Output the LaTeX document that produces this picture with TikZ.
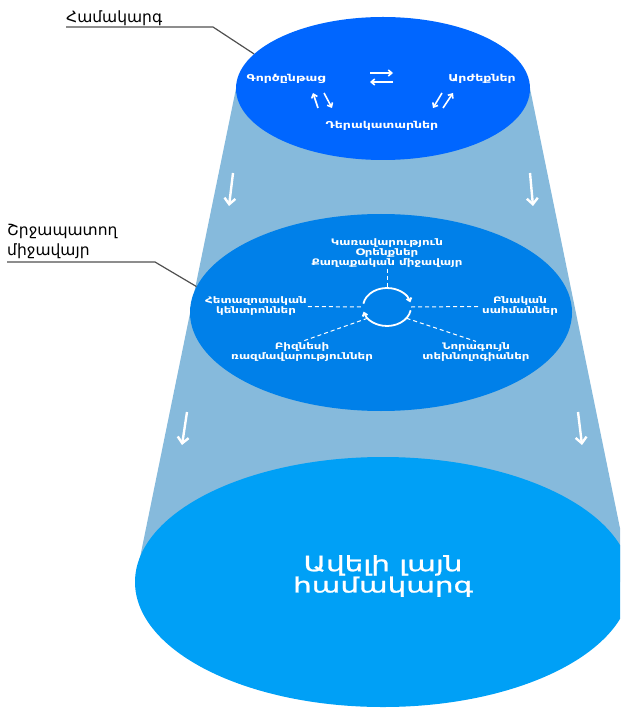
\documentclass[tikz,border=0pt]{standalone}
\usepackage{fontspec}
\setmainfont{DejaVu Sans}
\newfontfamily\widefont[FakeStretch=1.32]{DejaVu Sans}
\newfontfamily\bigfont[FakeStretch=1.4, FakeBold=1.2]{DejaVu Sans}
\usetikzlibrary{shapes.geometric,arrows.meta}
\definecolor{conecol}{RGB}{134,186,220}
\definecolor{syscol}{RGB}{0,102,255}
\definecolor{envcol}{RGB}{0,128,233}
\definecolor{widecol}{RGB}{0,160,246}
\definecolor{leadcol}{RGB}{80,80,80}

\begin{document}
\begin{tikzpicture}[x=1pt, y=-1pt,
	disc/.style={ellipse, inner sep=0pt},
	inlbl/.style={white, font=\widefont\bfseries\fontsize{9}{10}\selectfont, align=center, inner sep=1pt},
	outlbl/.style={black, font=\fontsize{15.5}{20}\selectfont, align=left, inner sep=0pt},
	lead/.style={leadcol, line width=1.2pt},
	flow/.style={white, line width=2.4pt, -{Straight Barb[length=6pt, width=11pt]}},
	swap/.style={white, line width=1.6pt, -{Straight Barb[length=3.5pt, width=6pt]}},
	ring/.style={white, line width=1.8pt, -{Straight Barb[length=3pt, width=5pt]}},
	link/.style={white, line width=1pt, dash pattern=on 4pt off 3pt}]
	\useasboundingbox (0,0) rectangle (620,708);
	\clip (0,0) rectangle (620,708);
	
	\fill[conecol] (236,88.5) -- (530,88.5) -- (631,582) -- (135,582) -- cycle; % Kegel
	
	% Scheiben
	\node[disc, fill=widecol, minimum width=496pt, minimum height=250pt] (wide) at (383,582) {};
	\node[disc, fill=envcol, minimum width=382pt, minimum height=197pt] (env) at (381,312.5) {};
	\node[disc, fill=syscol, minimum width=294pt, minimum height=143pt] (sys) at (383,88.5) {};
	
	% Pfeile nach unten
	\foreach \n/\xa/\ya/\xb/\yb in {1/233/173/229/206, 2/530/173/533/206, 3/187/412/182/445, 4/578/412/582/445}{
		\coordinate (d\n a) at (\xa,\ya);
		\coordinate (d\n b) at (\xb,\yb);
		\draw[flow] (d\n a) -- (d\n b);
	}
	
	% System
	\node[inlbl, font=\widefont\bfseries\fontsize{9.5}{11}\selectfont] (proc) at (286,79) {Գործընթաց};
	\node[inlbl, font=\widefont\bfseries\fontsize{9.5}{11}\selectfont] (val) at (482,79) {Արժեքներ};
	\node[inlbl, font=\widefont\bfseries\fontsize{9.5}{11}\selectfont] (act) at (382,126) {Դերակատարներ};
	\coordinate (sw1) at (370,73); \coordinate (sw2) at (393,73);
	\coordinate (sw3) at (393,82); \coordinate (sw4) at (370,82);
	\draw[swap] (sw1) -- (sw2);
	\draw[swap] (sw3) -- (sw4);
	\coordinate (pl1) at (318,108); \coordinate (pl2) at (313,93);
	\coordinate (pl3) at (324,93); \coordinate (pl4) at (332,108);
	\draw[swap] (pl1) -- (pl2);
	\draw[swap] (pl3) -- (pl4);
	\coordinate (pr1) at (442,93); \coordinate (pr2) at (433,108);
	\coordinate (pr3) at (443,108); \coordinate (pr4) at (453,93);
	\draw[swap] (pr1) -- (pr2);
	\draw[swap] (pr3) -- (pr4);
	
	% Umgebung
	\node[disc, minimum width=48pt, minimum height=38pt] (cyc) at (387,307) {};
	\draw[ring] ([shift={(170:24pt and 19pt)}]cyc.center) arc[start angle=170, end angle=14, x radius=24pt, y radius=19pt];
	\draw[ring] ([shift={(-10:24pt and 19pt)}]cyc.center) arc[start angle=-10, end angle=-166, x radius=24pt, y radius=19pt];
	
	\node[inlbl] (gov) at (387,253) {Կառավարություն\\Օրենքներ\\Քաղաքական միջավայր};
	\node[inlbl] (res) at (256,306.5) {Հետազոտական\\կենտրոններ};
	\node[inlbl] (nat) at (520,306.5) {Բնական\\սահմաններ};
	\node[inlbl] (biz) at (302,352) {Բիզնեսի\\ռազմավարություններ};
	\node[inlbl] (tech) at (476,352) {Նորագույն\\տեխնոլոգիաներ};
	
	\draw[link] (gov.south) -- (cyc.north);
	\draw[link] (res.east) -- (cyc.west);
	\draw[link] (cyc.east) -- (nat.west);
	\draw[link] (cyc.210) -- (biz.north);
	\draw[link] (cyc.330) -- (tech.north);
	
	% Weiteres System
	\node[white, font=\bigfont\fontsize{21}{18}\selectfont, align=center] (widel) at (383,576) {Ավելի լայն\\համակարգ};
	
	% Beschriftungen links
	\node[outlbl, anchor=base west] (sysl) at (66,23) {Համակարգ};
	\coordinate (sysk) at (213,27);
	\draw[lead] (sysl.base west |- sysk) -- (sysk) -- (sys.165);
	
	\node[outlbl, anchor=south west] (envl) at (7,258.5) {Շրջապատող\\միջավայր};
	\coordinate (envk) at (155,262);
	\draw[lead] (envl.south west |- envk) -- (envk) -- (env.172);
\end{tikzpicture}
\end{document}
